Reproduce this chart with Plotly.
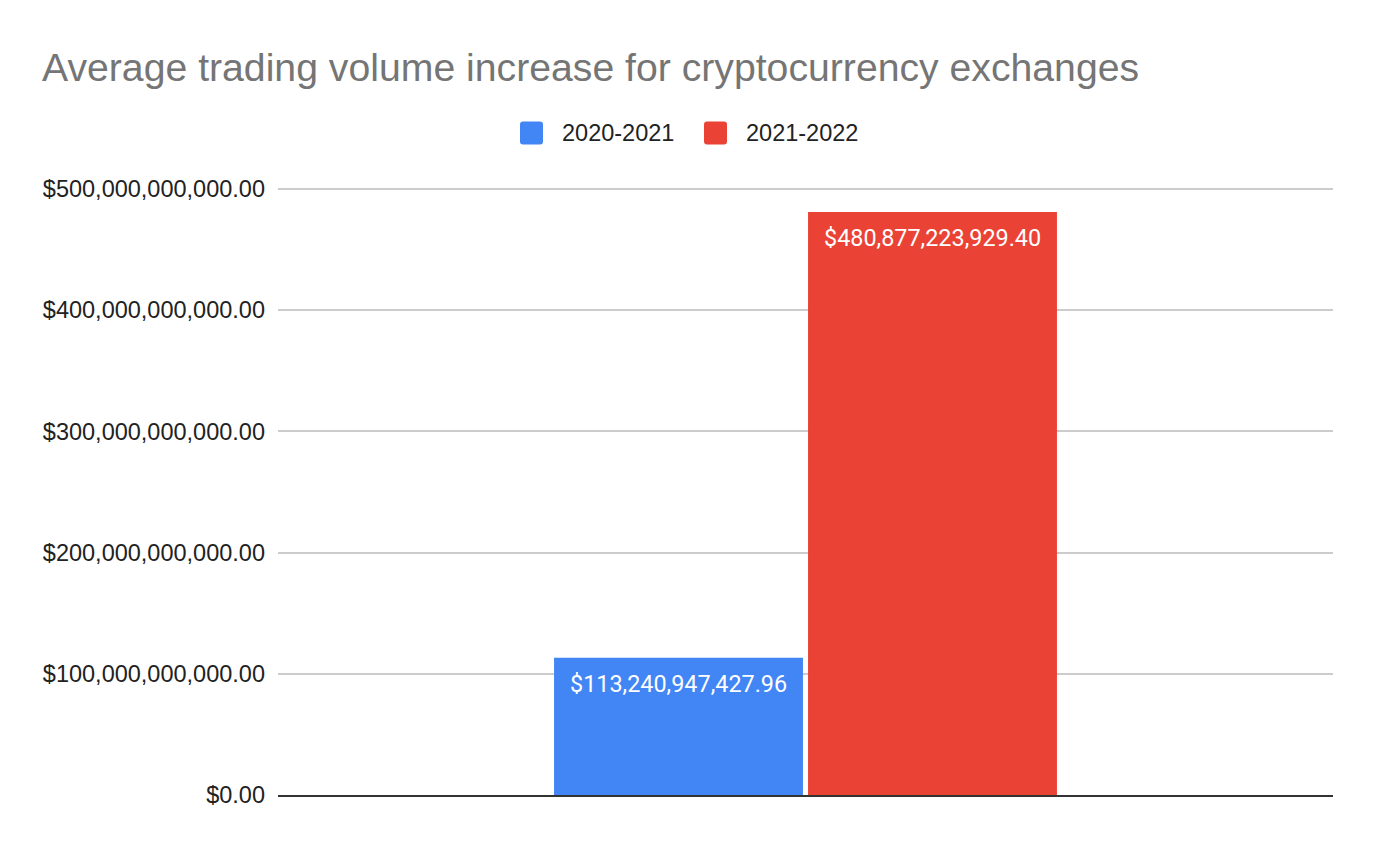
import plotly.graph_objects as go

# ---- data ----
CATEGORY = ["Average trading volume"]
PERIODS = ["2020-2021", "2021-2022"]
VOLUMES = [113240947427.96, 480877223929.40]
COLORS = ["#4285F4", "#EA4335"]

Y_TICKS = [0, 100e9, 200e9, 300e9, 400e9, 500e9]

# ---- layout (page has an 8px body margin) ----
W, H = 1360, 836
ML, MR, MT, MB = 270, 35, 179, 49
PW, PH = W - ML - MR, H - MT - MB
BARGAP, GROUPGAP = 0.5185, 0.02


def px_to_paper(fx, fy):
    return (fx - ML) / PW, 1 - (fy - MT) / PH


fig = go.Figure()
for name, val, col in zip(PERIODS, VOLUMES, COLORS):
    fig.add_trace(go.Bar(
        x=CATEGORY, y=[val], name=name,
        marker=dict(color=col, line=dict(width=0)),
        hoverinfo="skip", showlegend=False,
    ))

# value labels inside the top of each bar
group_w = PW * (1 - BARGAP) / len(CATEGORY)
for i, val in enumerate(VOLUMES):
    offset = (i - (len(VOLUMES) - 1) / 2) * group_w / len(VOLUMES)
    fig.add_annotation(
        x=0, y=val, xref="x", yref="y", text=f"${val:,.2f}",
        showarrow=False, xshift=offset, yshift=-26, yanchor="middle",
        font=dict(family="Roboto", size=23.4, color="white"),
    )

# legend drawn by hand (rounded squares like the sheets legend)
sq = "M -11.5,-8.5 L -11.5,8.5 Q -11.5,11.5 -8.5,11.5 L 8.5,11.5 Q 11.5,11.5 11.5,8.5 " \
     "L 11.5,-8.5 Q 11.5,-11.5 8.5,-11.5 L -8.5,-11.5 Q -11.5,-11.5 -11.5,-8.5 Z"
for name, col, sx, tx in zip(PERIODS, COLORS, [523.5, 707.5], [552, 736]):
    ax, ay = px_to_paper(sx, 125)
    fig.add_shape(type="path", path=sq, xref="paper", yref="paper",
                  xsizemode="pixel", ysizemode="pixel", xanchor=ax, yanchor=ay,
                  fillcolor=col, line=dict(width=0))
    lx, ly = px_to_paper(tx, 125)
    fig.add_annotation(x=lx, y=ly, xref="paper", yref="paper", text=name,
                       showarrow=False, xanchor="left", yanchor="middle",
                       font=dict(size=23.5, color="#222222"))

fig.update_layout(
    width=W, height=H,
    barmode="group", bargap=BARGAP, bargroupgap=GROUPGAP,
    plot_bgcolor="white", paper_bgcolor="white",
    margin=dict(l=ML, r=MR, t=MT, b=MB),
    font=dict(family="Liberation Sans, Arial", color="#222222"),
    showlegend=False,
    title=dict(
        text="Average trading volume increase for cryptocurrency exchanges",
        x=34 / W, xref="container", xanchor="left",
        y=1 - 59 / H, yref="container", yanchor="middle",
        font=dict(family="Liberation Sans, Arial", size=39.2, color="#757575"),
    ),
)

fig.update_xaxes(showticklabels=False, showgrid=False, showline=True,
                 linecolor="#333333", linewidth=1.5, ticks="")
fig.update_yaxes(
    range=[0, 501.6e9], tickvals=Y_TICKS, tickformat="$,.2f",
    tickfont=dict(size=23.5, color="#222222"),
    showgrid=True, gridcolor="#CCCCCC", gridwidth=1.5,
    zeroline=False, ticks="", ticklabelstandoff=12,
)

fig.write_html("out.html")
